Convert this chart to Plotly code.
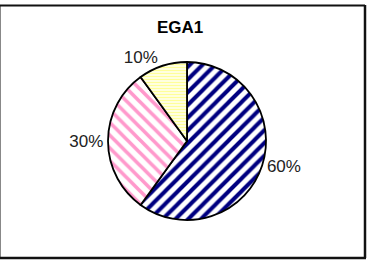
import plotly.graph_objects as go

labels = ["A", "B", "C"]
values = [60, 30, 10]
text_labels = ["60%", "30%", "10%"]
title = "EGA1"

W, H = 367, 262
cx, cy, r = 187, 141, 79

fig = go.Figure(go.Pie(
    labels=labels,
    values=values,
    text=text_labels,
    textinfo="text",
    textposition="outside",
    sort=False,
    direction="clockwise",
    rotation=0,
    marker=dict(
        colors=["#ffffff", "#ffffff", "#ffffee"],
        line=dict(color="#000000", width=1.8),
        pattern=dict(
            shape=["/", "\\", "-"],
            fgcolor=["#000080", "#ff99cc", "#ffff99"],
            bgcolor=["#ffffff", "#ffffff", "#ffffee"],
            size=[9, 9, 3],
            solidity=[0.45, 0.4, 0.45],
            fillmode="replace",
        ),
    ),
    outsidetextfont=dict(family="Liberation Sans, Arial", size=17, color="#222222"),
    domain=dict(x=[(cx - r) / W, (cx + r) / W], y=[1 - (cy + r) / H, 1 - (cy - r) / H]),
    showlegend=False,
    hoverinfo="skip",
))

fig.update_layout(
    width=W, height=H,
    margin=dict(l=0, r=0, t=0, b=0),
    paper_bgcolor="#ffffff",
    plot_bgcolor="#ffffff",
    annotations=[dict(
        text="<b>" + title + "</b>", x=180 / W, y=1 - 27 / H, xref="paper", yref="paper",
        showarrow=False, font=dict(family="Liberation Sans, Arial", size=17, color="#000000"),
        xanchor="center", yanchor="middle",
    )],
    shapes=[
        dict(type="line", xref="paper", yref="paper", x0=0.5 / W, x1=0.5 / W, y0=1 - 5 / H, y1=1 - 258 / H,
             line=dict(color="#888888", width=1)),
        dict(type="line", xref="paper", yref="paper", x0=0, x1=365 / W, y0=1 - 5.5 / H, y1=1 - 5.5 / H,
             line=dict(color="#111111", width=2)),
        dict(type="line", xref="paper", yref="paper", x0=365 / W, x1=365 / W, y0=1 - 5 / H, y1=1 - 258 / H,
             line=dict(color="#111111", width=2.5)),
        dict(type="line", xref="paper", yref="paper", x0=0, x1=366 / W, y0=1 - 258 / H, y1=1 - 258 / H,
             line=dict(color="#111111", width=2.5)),
    ],
)

fig.write_html("out.html", config={"displayModeBar": False},
               post_script="document.body.style.margin='0';document.body.style.overflow='hidden';")
